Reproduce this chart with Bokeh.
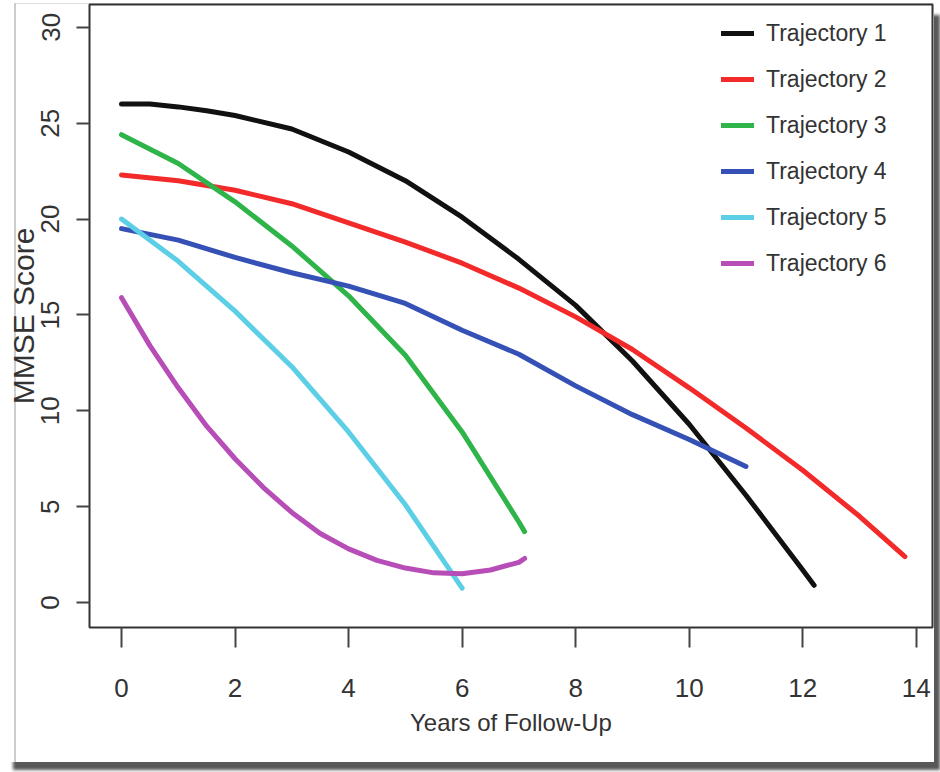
from bokeh.plotting import figure
from bokeh.models import FixedTicker, Legend, LegendItem, Range1d
from bokeh.embed import file_html
from bokeh.resources import INLINE

# ---- data ----
series_names = ["Trajectory 1", "Trajectory 2", "Trajectory 3",
                "Trajectory 4", "Trajectory 5", "Trajectory 6"]
series_colors = ["#111111", "#f22a2a", "#2fb44a", "#3551b5", "#5ccfe6", "#b74db6"]

years_t1 = [0, 0.5, 1, 1.5, 2, 3, 4, 5, 6, 7, 8, 9, 10, 11, 12, 12.2]
mmse_t1 = [26.0, 26.0, 25.85, 25.65, 25.4, 24.7, 23.5, 22.0, 20.1, 17.9, 15.5, 12.6, 9.3, 5.6, 1.7, 0.9]

years_t2 = [0, 1, 2, 3, 4, 5, 6, 7, 8, 9, 10, 11, 12, 13, 13.8]
mmse_t2 = [22.3, 22.0, 21.5, 20.8, 19.8, 18.8, 17.7, 16.4, 14.9, 13.2, 11.2, 9.1, 6.9, 4.5, 2.4]

years_t3 = [0, 1, 2, 3, 4, 5, 6, 7, 7.1]
mmse_t3 = [24.4, 22.9, 20.9, 18.6, 16.0, 12.9, 8.9, 4.2, 3.7]

years_t4 = [0, 1, 2, 3, 4, 5, 6, 7, 8, 9, 10, 11]
mmse_t4 = [19.5, 18.9, 18.0, 17.2, 16.5, 15.6, 14.2, 12.95, 11.3, 9.8, 8.5, 7.1]

years_t5 = [0, 1, 2, 3, 4, 5, 6]
mmse_t5 = [20.0, 17.8, 15.2, 12.3, 8.9, 5.1, 0.75]

years_t6 = [0, 0.5, 1, 1.5, 2, 2.5, 3, 3.5, 4, 4.5, 5, 5.5, 6, 6.5, 7, 7.1]
mmse_t6 = [15.9, 13.4, 11.2, 9.2, 7.5, 6.0, 4.7, 3.6, 2.8, 2.2, 1.8, 1.55, 1.5, 1.7, 2.1, 2.3]

x_ticks = [0, 2, 4, 6, 8, 10, 12, 14]
y_ticks = [0, 5, 10, 15, 20, 25, 30]
x_label = "Years of Follow-Up"
y_label = "MMSE Score"

all_years = [years_t1, years_t2, years_t3, years_t4, years_t5, years_t6]
all_mmse = [mmse_t1, mmse_t2, mmse_t3, mmse_t4, mmse_t5, mmse_t6]

FONT = "'Liberation Sans', Arial, sans-serif"

p = figure(width=931, height=759,
           x_range=Range1d(-0.564, 14.286), y_range=Range1d(-1.30, 31.19),
           output_backend="svg", toolbar_location=None,
           min_border_left=76, min_border_right=2, min_border_top=1, min_border_bottom=135)
p.margin = (3, 6, 10, 3)
p.styles = {"box-shadow": ("inset 11px 0 0 0 #ffffff, inset 13px 0 0 0 #cdcdcd, "
                           "inset 0 1px 0 0 #dddddd, 8px 10px 3px -2px #585858")}
p.background_fill_color = "white"
p.border_fill_alpha = 0
p.outline_line_color = "#333333"
p.outline_line_width = 2
p.xgrid.visible = False
p.ygrid.visible = False

renderers = []
for xs, ys, c in zip(all_years, all_mmse, series_colors):
    r = p.line(xs, ys, line_color=c, line_width=5, line_cap="round", line_join="round")
    renderers.append(r)

# axes
xa = p.xaxis[0]
xa.ticker = FixedTicker(ticks=x_ticks)
xa.axis_line_color = None
xa.major_tick_in = 0
xa.major_tick_out = 20
xa.minor_tick_out = 0
xa.minor_tick_in = 0
xa.major_tick_line_color = "#444444"
xa.major_tick_line_width = 2
xa.major_label_standoff = 31
xa.major_label_text_font = FONT
xa.major_label_text_font_size = "26px"
xa.major_label_text_color = "#333333"
xa.axis_label = x_label
xa.axis_label_text_font = FONT
xa.axis_label_text_font_size = "24px"
xa.axis_label_text_font_style = "normal"
xa.axis_label_text_color = "#333333"
xa.axis_label_standoff = 9

ya = p.yaxis[0]
ya.ticker = FixedTicker(ticks=y_ticks)
ya.axis_line_color = None
ya.major_tick_in = 0
ya.major_tick_out = 13
ya.minor_tick_out = 0
ya.minor_tick_in = 0
ya.major_tick_line_color = "#444444"
ya.major_tick_line_width = 2
ya.major_label_orientation = "vertical"
ya.major_label_standoff = 17
ya.major_label_text_font = FONT
ya.major_label_text_font_size = "26px"
ya.major_label_text_color = "#333333"
ya.axis_label = y_label
ya.axis_label_text_font = FONT
ya.axis_label_text_font_size = "30px"
ya.axis_label_text_font_style = "normal"
ya.axis_label_text_color = "#333333"
ya.axis_label_standoff = -1

items = [LegendItem(label=n, renderers=[r]) for n, r in zip(series_names, renderers)]
legend = Legend(items=items, location=(632, 341),
                glyph_width=33, glyph_height=46, label_height=46,
                label_standoff=12, spacing=0, padding=0, margin=0,
                border_line_color=None, background_fill_alpha=0,
                label_text_font=FONT, label_text_font_size="23px",
                label_text_color="#333333")
p.add_layout(legend)

open("out.html", "w").write(file_html(p, INLINE))
